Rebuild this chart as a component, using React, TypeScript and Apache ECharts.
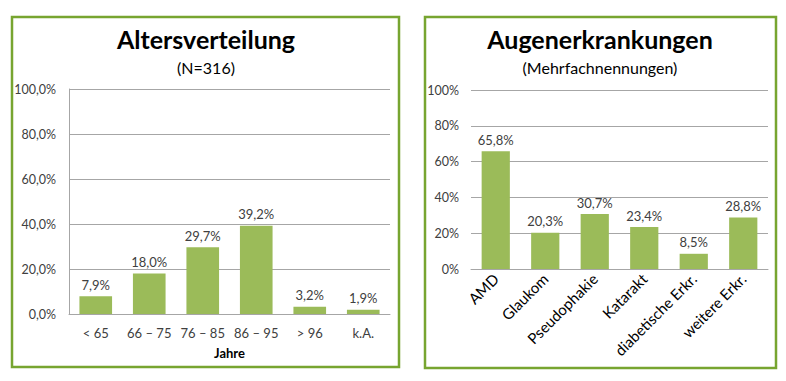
import React, { useEffect, useRef } from "react";
import * as echarts from "echarts";

const ageCategories = ["< 65", "66 – 75", "76 – 85", "86 – 95", "> 96", "k.A."];
const ageValues = [7.9, 18.0, 29.7, 39.2, 3.2, 1.9];
const ageTicks = [0, 20, 40, 60, 80, 100];

const eyeCategories = ["AMD", "Glaukom", "Pseudophakie", "Katarakt", "diabetische Erkr.", "weitere Erkr."];
const eyeValues = [65.8, 20.3, 30.7, 23.4, 8.5, 28.8];
const eyeTicks = [0, 20, 40, 60, 80, 100];

const FONT = "Lato, 'Open Sans', sans-serif";
const BAR = "#9bbb59";
const BORDER = "#77a530";
const TXT = "#404040";

const fmt = (v: number) => v.toFixed(1).replace(".", ",") + "%";

export default function App() {
  const ref = useRef<HTMLDivElement>(null);
  useEffect(() => {
    document.body.style.margin = "0";
    const chart = echarts.init(ref.current!, null, { renderer: "svg" });
    const titleStyle = { fontFamily: FONT, fontSize: 25, lineHeight: 28, fontWeight: "bold", color: "#000" };
    const subStyle = { fontFamily: FONT, fontSize: 16, lineHeight: 18, color: "#000" };
    chart.setOption({
      animation: false,
      backgroundColor: "#ffffff",
      textStyle: { fontFamily: FONT },
      title: [
        {
          text: "Altersverteilung",
          subtext: "(N=316)",
          left: 206,
          top: 25,
          padding: 0,
          textAlign: "center",
          itemGap: 5,
          textStyle: titleStyle,
          subtextStyle: subStyle,
        },
        {
          text: "Augenerkrankungen",
          subtext: "(Mehrfachnennungen)",
          left: 600,
          top: 25,
          padding: 0,
          textAlign: "center",
          itemGap: 5,
          textStyle: titleStyle,
          subtextStyle: subStyle,
        },
      ],
      graphic: [
        {
          type: "rect",
          shape: { x: 12, y: 17, width: 387, height: 350 },
          style: { fill: "none", stroke: BORDER, lineWidth: 2.5 },
          z: 10,
        },
        {
          type: "rect",
          shape: { x: 425, y: 17, width: 351, height: 351 },
          style: { fill: "none", stroke: BORDER, lineWidth: 2.5 },
          z: 10,
        },
      ],
      grid: [
        { left: 69, top: 89, width: 321, height: 225 },
        { left: 471, top: 90, width: 297, height: 179 },
      ],
      xAxis: [
        {
          type: "category",
          gridIndex: 0,
          data: ageCategories,
          name: "Jahre",
          nameLocation: "middle",
          nameGap: 32,
          nameTextStyle: { fontFamily: FONT, fontSize: 13, fontWeight: "bold", color: "#000" },
          axisLine: { lineStyle: { color: "#a6a6a6" } },
          axisTick: { show: false },
          axisLabel: { fontFamily: FONT, fontSize: 13, color: TXT, margin: 12, interval: 0 },
        },
        {
          type: "category",
          gridIndex: 1,
          data: eyeCategories,
          axisLine: { lineStyle: { color: "#a6a6a6" } },
          axisTick: { show: false },
          axisLabel: { fontFamily: FONT, fontSize: 15, color: "#000", rotate: 45, margin: 7, interval: 0 },
        },
      ],
      yAxis: [
        {
          type: "value",
          gridIndex: 0,
          min: ageTicks[0],
          max: ageTicks[ageTicks.length - 1],
          interval: 20,
          axisLine: { show: true, lineStyle: { color: "#a6a6a6" } },
          axisTick: { show: false },
          splitLine: { lineStyle: { color: "#a6a6a6" } },
          axisLabel: {
            fontFamily: FONT,
            fontSize: 12.5,
            color: TXT,
            margin: 13,
            formatter: (v: number) => fmt(v),
          },
        },
        {
          type: "value",
          gridIndex: 1,
          min: eyeTicks[0],
          max: eyeTicks[eyeTicks.length - 1],
          interval: 20,
          axisLine: { show: false },
          axisTick: { show: false },
          splitLine: { lineStyle: { color: "#a6a6a6" } },
          axisLabel: {
            fontFamily: FONT,
            fontSize: 12.5,
            color: TXT,
            margin: 12,
            formatter: (v: number) => v + "%",
          },
        },
      ],
      series: [
        {
          type: "bar",
          xAxisIndex: 0,
          yAxisIndex: 0,
          data: ageValues,
          barWidth: "61%",
          itemStyle: { color: BAR },
          label: {
            show: true,
            position: "top",
            distance: 5,
            fontFamily: FONT,
            fontSize: 13,
            color: TXT,
            formatter: (p: any) => fmt(p.value),
          },
        },
        {
          type: "bar",
          xAxisIndex: 1,
          yAxisIndex: 1,
          data: eyeValues,
          barWidth: "57%",
          itemStyle: { color: BAR },
          label: {
            show: true,
            position: "top",
            distance: 5,
            fontFamily: FONT,
            fontSize: 13,
            color: TXT,
            formatter: (p: any) => fmt(p.value),
          },
        },
      ],
    });
    return () => chart.dispose();
  }, []);
  return <div ref={ref} style={{ width: 786, height: 381 }} />;
}
